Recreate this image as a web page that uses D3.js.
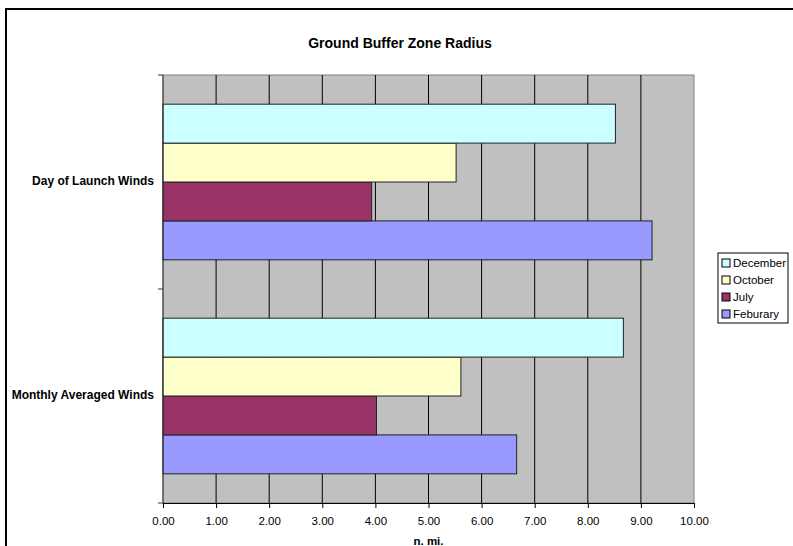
<!DOCTYPE html>
<html lang="en">
<head>
<meta charset="UTF-8">
<title>Ground Buffer Zone Radius</title>
<style>
    body { margin: 0; background: #fff; }
    svg { display: block; font-family: "Liberation Sans", Arial, sans-serif; }
</style>
</head>
<body>
<div id="chart"></div>
<script src="https://cdn.jsdelivr.net/npm/d3@7/dist/d3.min.js"></script>
<script>
"use strict";

// categories, bottom to top as in the original
var categories = ["Monthly Averaged Winds", "Day of Launch Winds"];
// series, first drawn at the bottom of each group
var seriesNames = ["Feburary", "July", "October", "December"];
var feburary = [6.66, 9.21];
var july = [4.02, 3.93];
var october = [5.61, 5.52];
var december = [8.67, 8.52];
var xTicks = [0, 1, 2, 3, 4, 5, 6, 7, 8, 9, 10];

var colors = {
    "Feburary": "#9999ff",
    "July": "#993366",
    "October": "#ffffcc",
    "December": "#ccffff"
};

var values = { "Feburary": feburary, "July": july, "October": october, "December": december };

var W = 793, H = 546;
var plot = { left: 163, right: 694, top: 75, bottom: 503 };

var svg = d3.select("#chart").append("svg")
    .attr("width", W)
    .attr("height", H);

// chart border
svg.append("rect")
    .attr("x", 6).attr("y", 9)
    .attr("width", W).attr("height", H)
    .attr("fill", "#fff")
    .attr("stroke", "#000")
    .attr("stroke-width", 2);

var x = d3.scaleLinear().domain([0, 10]).range([plot.left, plot.right]);

// top category first on screen
var y = d3.scaleBand()
    .domain(categories.slice().reverse())
    .range([plot.top, plot.bottom])
    .paddingInner(0)
    .paddingOuter(0);

// gap width 150%: band = 4 bars + 1.5 bar
var barH = y.bandwidth() / 5.5;

svg.append("rect")
    .attr("x", plot.left).attr("y", plot.top)
    .attr("width", plot.right - plot.left)
    .attr("height", plot.bottom - plot.top)
    .attr("fill", "#c0c0c0")
    .attr("stroke", "#808080")
    .attr("stroke-width", 1);

// vertical gridlines
svg.append("g")
    .selectAll("line")
    .data(xTicks.slice(1, -1))
    .enter().append("line")
    .attr("x1", d => x(d)).attr("x2", d => x(d))
    .attr("y1", plot.top).attr("y2", plot.bottom)
    .attr("stroke", "#000")
    .attr("stroke-width", 1);

// bars
var groups = svg.append("g").selectAll("g")
    .data(categories)
    .enter().append("g");

groups.selectAll("rect")
    .data((c, ci) => seriesNames.map((s, si) => ({ s: s, si: si, v: values[s][ci], c: c })))
    .enter().append("rect")
    .attr("x", x(0))
    .attr("width", d => x(d.v) - x(0))
    .attr("y", d => y(d.c) + y.bandwidth() - 0.75 * barH - (d.si + 1) * barH)
    .attr("height", barH)
    .attr("fill", d => colors[d.s])
    .attr("stroke", "#222")
    .attr("stroke-width", 1);

// x axis
var xAxis = d3.axisBottom(x)
    .tickValues(xTicks)
    .tickFormat(d3.format(".2f"))
    .tickSize(5)
    .tickPadding(9);

var gx = svg.append("g")
    .attr("transform", "translate(0," + plot.bottom + ")")
    .call(xAxis);
gx.select(".domain").attr("stroke", "#000");
gx.selectAll(".tick line").attr("stroke", "#000");
gx.selectAll("text")
    .attr("font-size", 11.5)
    .attr("font-family", "\"Liberation Sans\", Arial, sans-serif")
    .attr("fill", "#000");

// y axis line and ticks at category boundaries
svg.append("line")
    .attr("x1", plot.left).attr("x2", plot.left)
    .attr("y1", plot.top).attr("y2", plot.bottom)
    .attr("stroke", "#333");
svg.append("g").selectAll("line")
    .data([plot.top, plot.top + y.bandwidth(), plot.bottom])
    .enter().append("line")
    .attr("x1", plot.left - 5).attr("x2", plot.left)
    .attr("y1", d => d).attr("y2", d => d)
    .attr("stroke", "#333");

svg.append("g").selectAll("text")
    .data(categories)
    .enter().append("text")
    .attr("x", plot.left - 9)
    .attr("y", d => y(d) + y.bandwidth() / 2 - 1)
    .attr("dy", "0.35em")
    .attr("text-anchor", "end")
    .attr("font-size", 12)
    .attr("font-weight", "bold")
    .text(d => d);

// title
svg.append("text")
    .attr("x", 400).attr("y", 48)
    .attr("text-anchor", "middle")
    .attr("font-size", 14)
    .attr("font-weight", "bold")
    .text("Ground Buffer Zone Radius");

// axis title
svg.append("text")
    .attr("x", (plot.left + plot.right) / 2).attr("y", 545)
    .attr("text-anchor", "middle")
    .attr("font-size", 11.5)
    .attr("font-weight", "bold")
    .text("n. mi.");

// legend
var legendOrder = seriesNames.slice().reverse();
var lg = svg.append("g").attr("transform", "translate(718,253)");
lg.append("rect")
    .attr("width", 70).attr("height", 70)
    .attr("fill", "#fff")
    .attr("stroke", "#000");
var items = lg.selectAll("g.item")
    .data(legendOrder)
    .enter().append("g")
    .attr("class", "item")
    .attr("transform", (d, i) => "translate(4," + (10 + i * 17) + ")");
items.append("rect")
    .attr("x", 0).attr("y", -4)
    .attr("width", 8).attr("height", 8)
    .attr("fill", d => colors[d])
    .attr("stroke", "#000");
items.append("text")
    .attr("x", 11).attr("y", 0)
    .attr("dy", "0.35em")
    .attr("font-size", 11.5)
    .text(d => d);
</script>
</body>
</html>
